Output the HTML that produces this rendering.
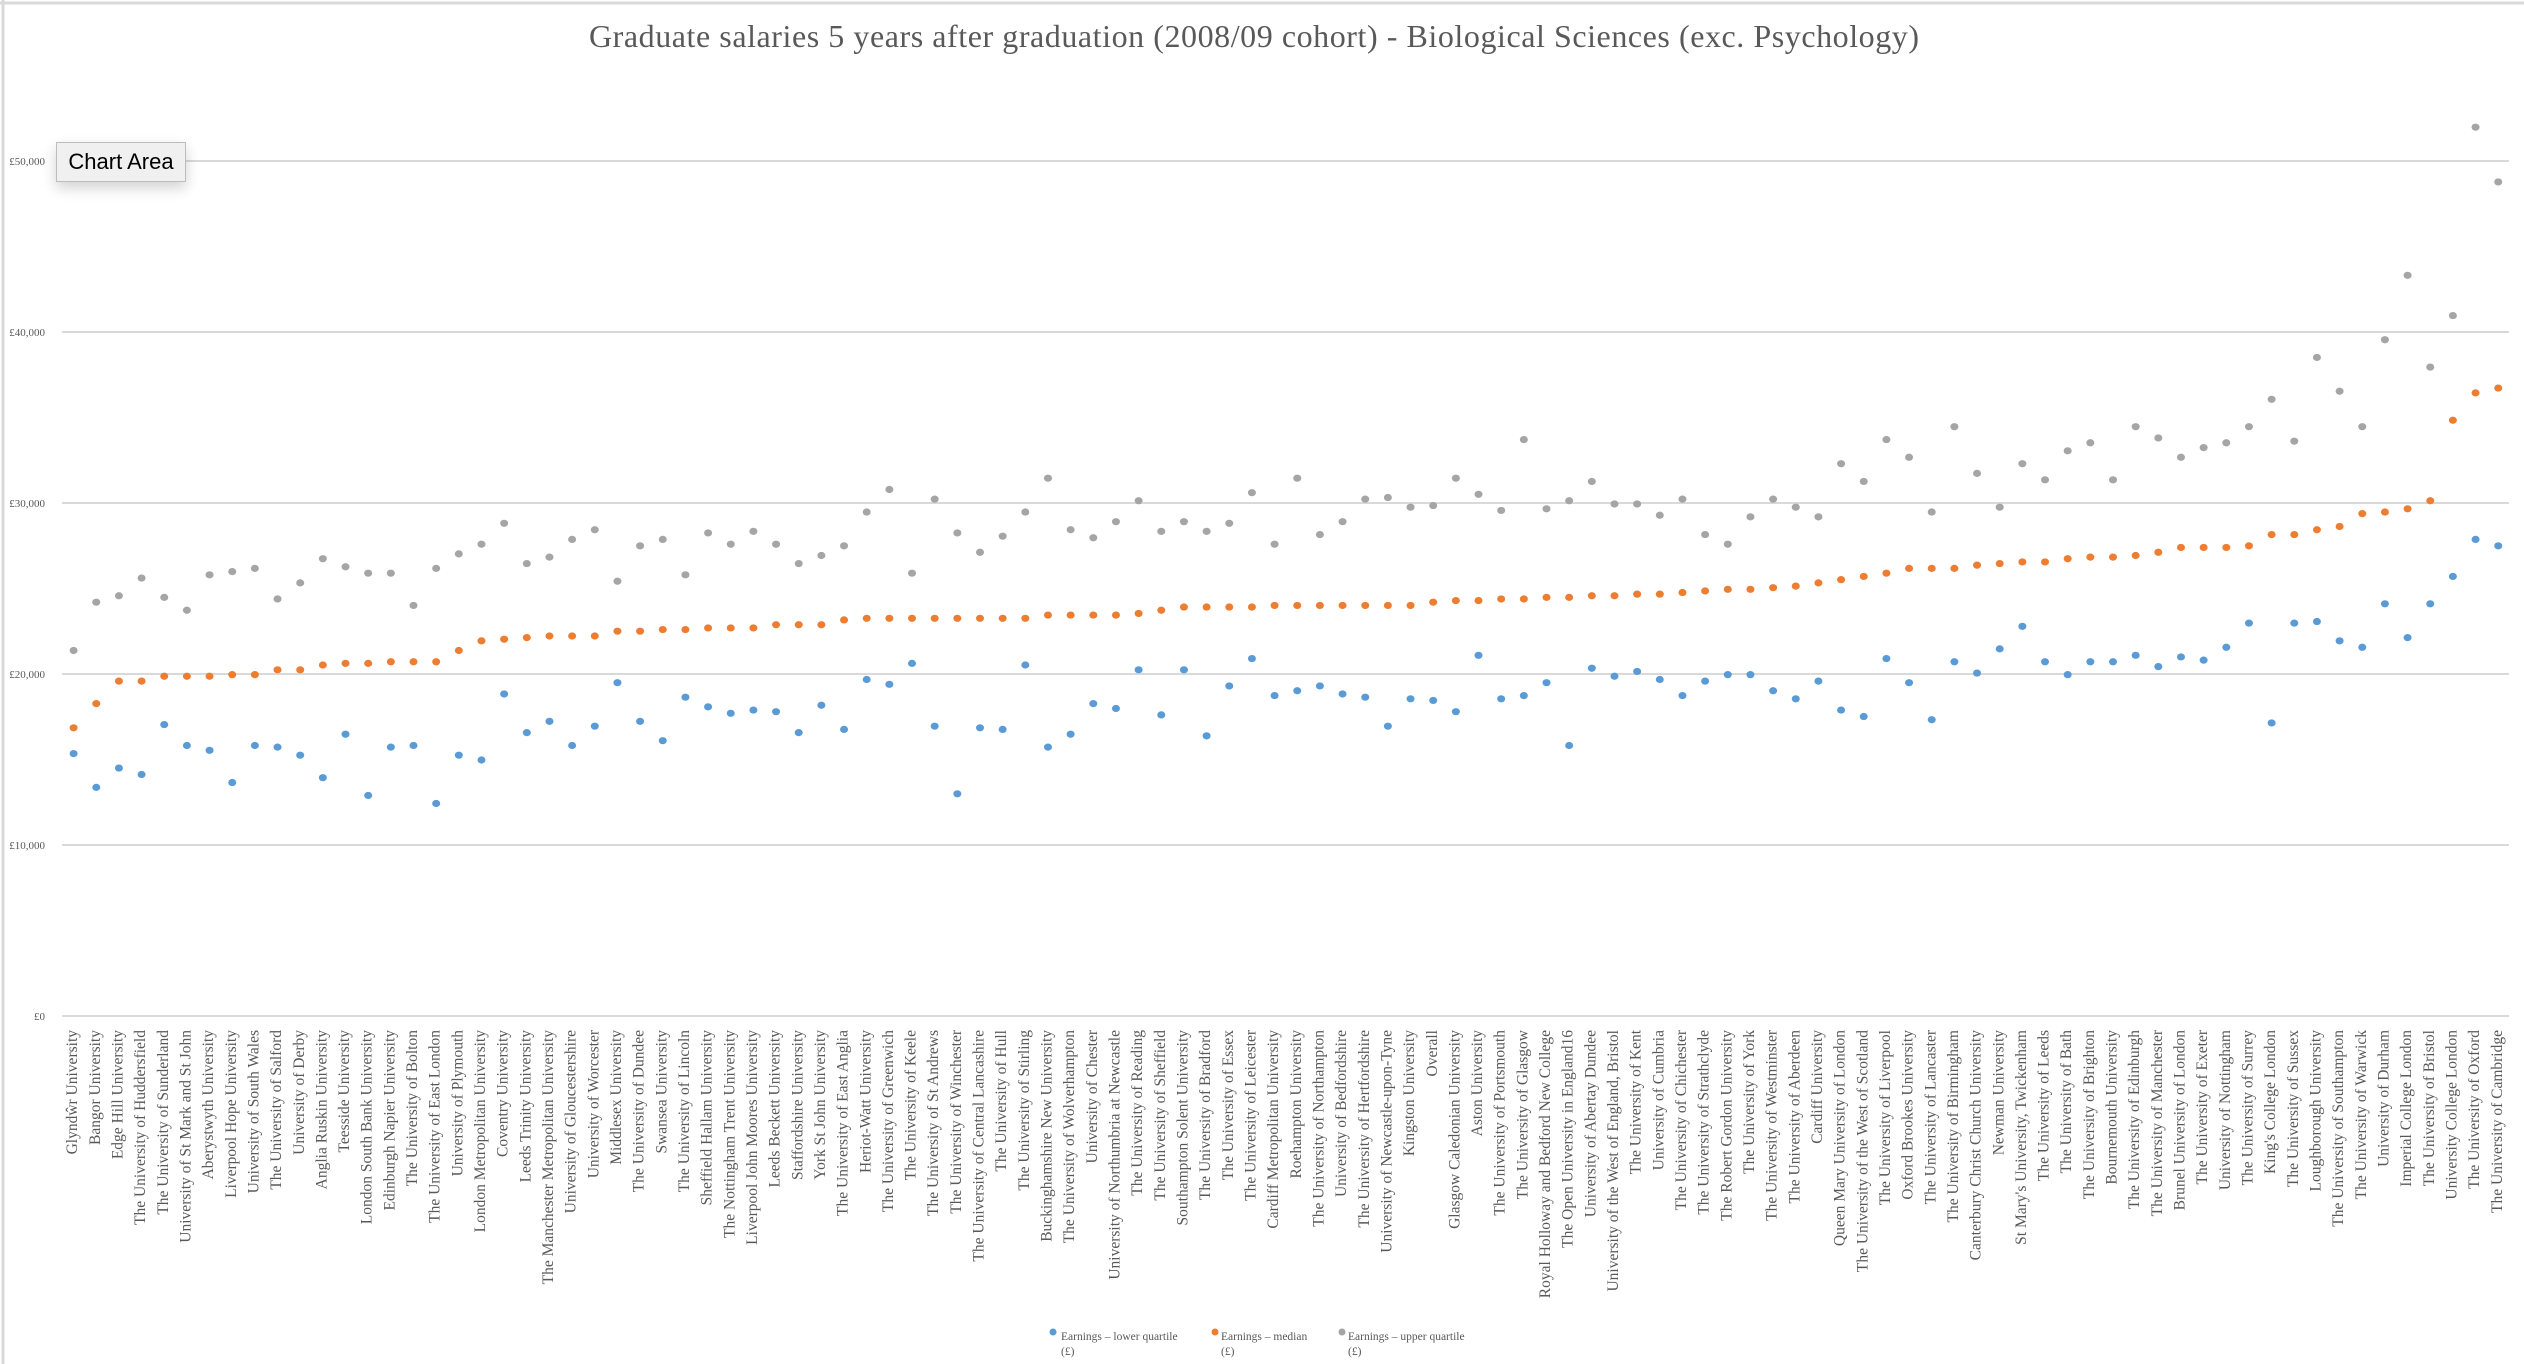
<!DOCTYPE html>
<html><head><meta charset="utf-8"><style>
html,body{margin:0;padding:0;background:#fff;}
body{width:2524px;height:1364px;overflow:hidden;position:relative;}
svg{position:absolute;left:0;top:0;}
#tip{position:absolute;left:56px;top:142px;width:128px;height:38px;background:#f0f0f0;border:1px solid #bdbdbd;box-shadow:0 6px 14px rgba(0,0,0,0.18);font:22px "Liberation Sans",sans-serif;color:#000;line-height:38px;text-align:center;}
</style></head><body>
<svg id="s" width="2524" height="1364" xmlns="http://www.w3.org/2000/svg">
<line x1="0" y1="3" x2="2524" y2="3" stroke="#d9d9d9" stroke-width="3"/>
<line x1="3" y1="0" x2="3" y2="1364" stroke="#d9d9d9" stroke-width="3"/>
<text x="1254" y="47" text-anchor="middle" font-family="Liberation Serif, serif" font-size="32" fill="#595959" textLength="1330">Graduate salaries 5 years after graduation (2008/09 cohort) - Biological Sciences (exc. Psychology)</text>
<g stroke="#d9d9d9" stroke-width="2">
<line x1="62" y1="161" x2="2509" y2="161"/><line x1="62" y1="332" x2="2509" y2="332"/>
<line x1="62" y1="503" x2="2509" y2="503"/><line x1="62" y1="674" x2="2509" y2="674"/>
<line x1="62" y1="845" x2="2509" y2="845"/><line x1="62" y1="1016" x2="2509" y2="1016"/>
</g>
<g font-family="Liberation Serif, serif" font-size="11" fill="#595959" text-anchor="end">
<text x="45" y="165">£50,000</text><text x="45" y="336">£40,000</text><text x="45" y="507">£30,000</text>
<text x="45" y="678">£20,000</text><text x="45" y="849">£10,000</text><text x="45" y="1020">£0</text>
</g>
<g id="dots"></g>
<g id="labels" font-family="Liberation Serif, serif" font-size="15.5" fill="#595959" text-anchor="end" dominant-baseline="middle">
<text>Glyndŵr University</text><text>Bangor University</text><text>Edge Hill University</text><text>The University of Huddersfield</text><text>The University of Sunderland</text><text>University of St Mark and St John</text><text>Aberystwyth University</text><text>Liverpool Hope University</text><text>University of South Wales</text><text>The University of Salford</text><text>University of Derby</text><text>Anglia Ruskin University</text><text>Teesside University</text><text>London South Bank University</text><text>Edinburgh Napier University</text><text>The University of Bolton</text><text>The University of East London</text><text>University of Plymouth</text><text>London Metropolitan University</text><text>Coventry University</text><text>Leeds Trinity University</text><text>The Manchester Metropolitan University</text><text>University of Gloucestershire</text><text>University of Worcester</text><text>Middlesex University</text><text>The University of Dundee</text><text>Swansea University</text><text>The University of Lincoln</text><text>Sheffield Hallam University</text><text>The Nottingham Trent University</text><text>Liverpool John Moores University</text><text>Leeds Beckett University</text><text>Staffordshire University</text><text>York St John University</text><text>The University of East Anglia</text><text>Heriot-Watt University</text><text>The University of Greenwich</text><text>The University of Keele</text><text>The University of St Andrews</text><text>The University of Winchester</text><text>The University of Central Lancashire</text><text>The University of Hull</text><text>The University of Stirling</text><text>Buckinghamshire New University</text><text>The University of Wolverhampton</text><text>University of Chester</text><text>University of Northumbria at Newcastle</text><text>The University of Reading</text><text>The University of Sheffield</text><text>Southampton Solent University</text><text>The University of Bradford</text><text>The University of Essex</text><text>The University of Leicester</text><text>Cardiff Metropolitan University</text><text>Roehampton University</text><text>The University of Northampton</text><text>University of Bedfordshire</text><text>The University of Hertfordshire</text><text>University of Newcastle-upon-Tyne</text><text>Kingston University</text><text>Overall</text><text>Glasgow Caledonian University</text><text>Aston University</text><text>The University of Portsmouth</text><text>The University of Glasgow</text><text>Royal Holloway and Bedford New College</text><text>The Open University in England16</text><text>University of Abertay Dundee</text><text>University of the West of England, Bristol</text><text>The University of Kent</text><text>University of Cumbria</text><text>The University of Chichester</text><text>The University of Strathclyde</text><text>The Robert Gordon University</text><text>The University of York</text><text>The University of Westminster</text><text>The University of Aberdeen</text><text>Cardiff University</text><text>Queen Mary University of London</text><text>The University of the West of Scotland</text><text>The University of Liverpool</text><text>Oxford Brookes University</text><text>The University of Lancaster</text><text>The University of Birmingham</text><text>Canterbury Christ Church University</text><text>Newman University</text><text>St Mary's University, Twickenham</text><text>The University of Leeds</text><text>The University of Bath</text><text>The University of Brighton</text><text>Bournemouth University</text><text>The University of Edinburgh</text><text>The University of Manchester</text><text>Brunel University of London</text><text>The University of Exeter</text><text>University of Nottingham</text><text>The University of Surrey</text><text>King's College London</text><text>The University of Sussex</text><text>Loughborough University</text><text>The University of Southampton</text><text>The University of Warwick</text><text>University of Durham</text><text>Imperial College London</text><text>The University of Bristol</text><text>University College London</text><text>The University of Oxford</text><text>The University of Cambridge</text>
</g>
<g font-family="Liberation Serif, serif" font-size="11.5" fill="#595959">
<circle cx="1053" cy="1332" r="3.5" fill="#5B9BD5"/>
<text x="1061" y="1340">Earnings – lower quartile</text><text x="1061" y="1355">(£)</text>
<circle cx="1215" cy="1332" r="3.5" fill="#ED7D31"/>
<text x="1221" y="1340">Earnings – median</text><text x="1221" y="1355">(£)</text>
<circle cx="1342" cy="1332" r="3.5" fill="#A5A5A5"/>
<text x="1348" y="1340">Earnings – upper quartile</text><text x="1348" y="1355">(£)</text>
</g>
</svg>
<div id="tip">Chart Area</div>
<script>
var G=[404,374,370,359,371,379,357,355,353,372,362,347,352,356,356,376,353,344,338,325,350,346,335,329,361,339,335,357,331,338,330,338,350,345,339,318,304,356,310,331,343,333,318,297,329,334,324,311,330,324,330,325,306,338,297,332,324,310,309,315,314,297,307,317,273,316,311,299,313,313,320,310,332,338,321,310,315,321,288,299,273,284,318,265,294,315,288,298,280,275,298,265,272,284,278,275,265,248,274,222,243,265,211,171,228,196,79,113];
var O=[452,437,423,423,420,420,420,419,419,416,416,413,412,412,411,411,411,404,398,397,396,395,395,395,392,392,391,391,390,390,390,388,388,388,385,384,384,384,384,384,384,384,384,382,382,382,382,381,379,377,377,377,377,376,376,376,376,376,376,376,374,373,373,372,372,371,371,370,370,369,369,368,367,366,366,365,364,362,360,358,356,353,353,353,351,350,349,349,347,346,346,345,343,340,340,340,339,332,332,329,327,319,318,316,311,261,244,241];
var B=[468,489,477,481,450,463,466,486,463,464,469,483,456,494,464,463,499,469,472,431,455,448,463,451,424,448,460,433,439,443,441,442,455,438,453,422,425,412,451,493,452,453,413,464,456,437,440,416,444,416,457,426,409,432,429,426,431,433,451,434,435,442,407,434,432,424,463,415,420,417,422,432,423,419,419,429,434,423,441,445,409,424,447,411,418,403,389,411,419,411,411,407,414,408,410,402,387,449,387,386,398,402,375,396,375,358,335,339];
var ns="http://www.w3.org/2000/svg",d=document.getElementById("dots");
function X(i){return 73.6+i*22.66;}
function Y(v){return 161+(v-100)*1.6102;}
[[G,"#A5A5A5"],[O,"#ED7D31"],[B,"#5B9BD5"]].forEach(function(p){
p[0].forEach(function(v,i){var c=document.createElementNS(ns,"ellipse");c.setAttribute("cx",X(i));c.setAttribute("cy",Y(v));c.setAttribute("rx",4);c.setAttribute("ry",3.6);c.setAttribute("fill",p[1]);d.appendChild(c);});});
var L=document.getElementById("labels").children;
for(var i=0;i<L.length;i++){L[i].setAttribute("transform","translate("+X(i)+",1030) rotate(-90)");}
</script>
</body></html>
